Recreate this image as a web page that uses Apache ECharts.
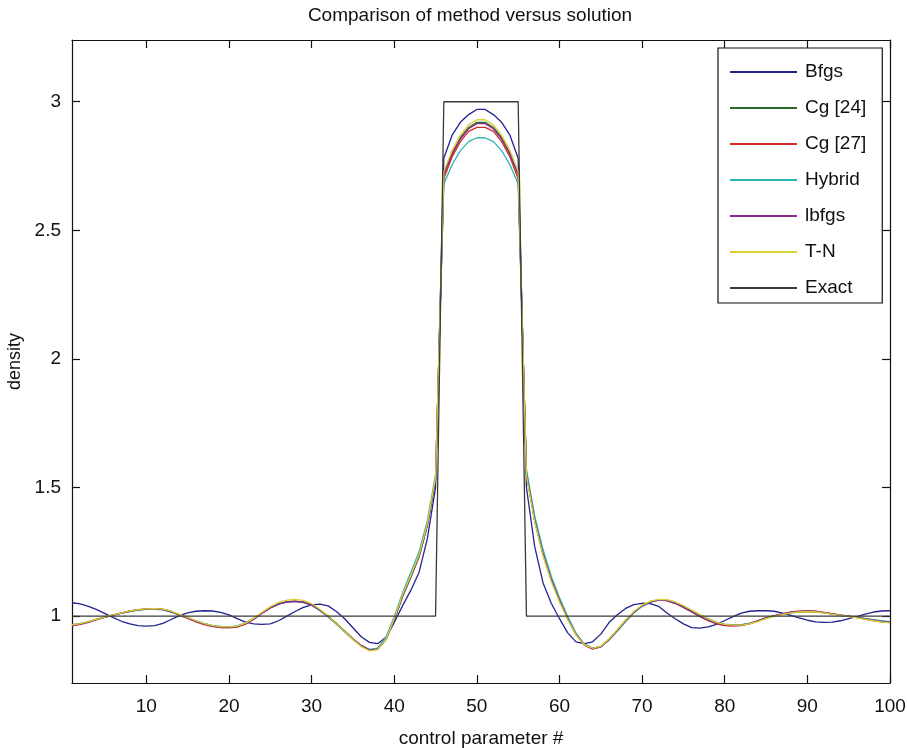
<!DOCTYPE html>
<html>
<head>
<meta charset="utf-8">
<script src="https://cdn.jsdelivr.net/npm/echarts@6/dist/echarts.min.js"></script>
<style>
html,body{margin:0;padding:0;background:#fff;}
#chart{width:907px;height:748px;}
</style>
</head>
<body>
<div id="chart"></div>
<script>
// ---- data ----
const seriesNames = ['Bfgs', 'Cg [24]', 'Cg [27]', 'Hybrid', 'lbfgs', 'T-N', 'Exact'];
const xTicks = [10, 20, 30, 40, 50, 60, 70, 80, 90, 100];
const yTicks = [1, 1.5, 2, 2.5, 3];

const bfgs = [1.052,1.048,1.038,1.025,1.010,0.994,0.980,0.970,0.963,0.961,
0.963,0.972,0.987,1.002,1.013,1.019,1.021,1.020,1.015,1.005,
0.990,0.977,0.970,0.968,0.970,0.982,1.000,1.018,1.034,1.044,
1.047,1.040,1.018,0.990,0.955,0.920,0.898,0.893,0.918,0.975,
1.040,1.100,1.170,1.300,1.500,2.780,2.870,2.920,2.950,2.970,
2.970,2.950,2.920,2.870,2.780,1.500,1.270,1.130,1.050,0.990,
0.935,0.900,0.893,0.900,0.930,0.975,1.005,1.030,1.045,1.050,
1.049,1.038,1.012,0.990,0.970,0.955,0.953,0.958,0.968,0.983,
0.998,1.012,1.019,1.021,1.021,1.019,1.012,1.003,0.993,0.984,
0.978,0.976,0.977,0.982,0.990,0.998,1.008,1.016,1.020,1.021];

const cg24 = [0.965,0.970,0.978,0.987,0.996,1.004,1.012,1.019,1.024,1.027,
1.028,1.026,1.018,1.006,0.994,0.981,0.970,0.962,0.958,0.957,
0.960,0.972,0.990,1.012,1.033,1.048,1.056,1.058,1.055,1.044,
1.024,1.000,0.972,0.942,0.912,0.886,0.870,0.873,0.910,0.985,
1.075,1.150,1.230,1.350,1.530,2.720,2.800,2.860,2.900,2.920,
2.920,2.900,2.860,2.800,2.720,1.550,1.370,1.240,1.140,1.060,
0.990,0.930,0.890,0.875,0.882,0.910,0.945,0.982,1.015,1.040,
1.055,1.062,1.060,1.050,1.035,1.018,1.000,0.985,0.973,0.967,
0.965,0.966,0.972,0.982,0.993,1.001,1.008,1.014,1.017,1.018,
1.017,1.014,1.009,1.004,1.000,0.996,0.990,0.985,0.980,0.977];

const cg27 = [0.962,0.968,0.976,0.986,0.996,1.005,1.013,1.020,1.025,1.028,
1.029,1.026,1.017,1.004,0.991,0.978,0.967,0.959,0.955,0.954,
0.957,0.969,0.988,1.011,1.032,1.047,1.055,1.057,1.054,1.043,
1.023,0.999,0.970,0.940,0.910,0.884,0.868,0.872,0.910,0.987,
1.078,1.155,1.235,1.355,1.535,2.700,2.785,2.845,2.885,2.900,
2.900,2.885,2.845,2.785,2.700,1.560,1.375,1.245,1.145,1.062,
0.990,0.928,0.887,0.872,0.880,0.908,0.944,0.981,1.014,1.040,
1.056,1.063,1.061,1.050,1.034,1.016,0.998,0.982,0.970,0.963,
0.961,0.963,0.970,0.981,0.993,1.002,1.010,1.016,1.019,1.020,
1.019,1.015,1.010,1.004,0.999,0.994,0.988,0.982,0.978,0.975];

const hybrid = [0.967,0.972,0.979,0.988,0.997,1.005,1.012,1.018,1.023,1.026,
1.026,1.024,1.016,1.005,0.994,0.982,0.972,0.964,0.960,0.959,
0.962,0.974,0.992,1.013,1.033,1.047,1.055,1.057,1.053,1.042,
1.021,0.997,0.968,0.938,0.909,0.884,0.870,0.876,0.918,0.998,
1.090,1.170,1.250,1.370,1.550,2.680,2.755,2.810,2.845,2.860,
2.860,2.845,2.810,2.755,2.680,1.570,1.390,1.260,1.155,1.072,
0.998,0.934,0.892,0.876,0.881,0.907,0.942,0.979,1.012,1.038,
1.054,1.062,1.062,1.054,1.040,1.023,1.005,0.990,0.977,0.969,
0.966,0.967,0.972,0.981,0.991,1.000,1.007,1.013,1.016,1.017,
1.016,1.013,1.008,1.003,0.999,0.995,0.990,0.986,0.982,0.979];

const lbfgs = [0.964,0.969,0.977,0.987,0.996,1.004,1.012,1.019,1.024,1.027,
1.028,1.025,1.017,1.005,0.993,0.980,0.969,0.961,0.957,0.956,
0.959,0.971,0.989,1.011,1.032,1.047,1.055,1.057,1.054,1.043,
1.023,0.999,0.971,0.941,0.911,0.885,0.869,0.872,0.909,0.985,
1.076,1.152,1.232,1.352,1.532,2.715,2.795,2.855,2.895,2.915,
2.915,2.895,2.855,2.795,2.715,1.552,1.372,1.242,1.142,1.061,
0.990,0.929,0.889,0.874,0.881,0.909,0.945,0.982,1.015,1.040,
1.055,1.062,1.060,1.050,1.035,1.017,0.999,0.984,0.972,0.966,
0.964,0.965,0.971,0.982,0.993,1.001,1.009,1.015,1.018,1.019,
1.018,1.014,1.009,1.004,0.999,0.995,0.989,0.984,0.979,0.976];

const tn = [0.966,0.971,0.979,0.988,0.997,1.005,1.013,1.020,1.025,1.028,
1.029,1.027,1.019,1.007,0.995,0.982,0.971,0.963,0.959,0.958,
0.961,0.973,0.992,1.015,1.037,1.053,1.062,1.065,1.061,1.049,
1.027,1.001,0.971,0.940,0.909,0.882,0.865,0.870,0.910,0.990,
1.082,1.158,1.238,1.358,1.540,2.730,2.810,2.870,2.910,2.930,
2.930,2.910,2.870,2.810,2.730,1.545,1.365,1.235,1.135,1.055,
0.986,0.927,0.889,0.875,0.883,0.912,0.948,0.985,1.018,1.043,
1.058,1.065,1.064,1.055,1.041,1.024,1.006,0.989,0.976,0.968,
0.965,0.965,0.970,0.979,0.990,0.999,1.007,1.013,1.016,1.017,
1.016,1.013,1.008,1.003,0.998,0.993,0.987,0.982,0.977,0.974];

const exactX = [1, 45, 46, 55, 56, 100];
const exactY = [1, 1, 3, 3, 1, 1];

const colors = ['#23238f', '#2a6a2a', '#d42a2a', '#2ab5b5', '#8a2a8a', '#d8d030', '#3a3a3a'];

// ---- build ----
function pairs(vals) { return vals.map((v, i) => [i + 1, v]); }
const methodData = [bfgs, cg24, cg27, hybrid, lbfgs, tn];

const font = 'Liberation Sans, Arial, sans-serif';
const series = methodData.map((vals, k) => ({
  name: seriesNames[k], type: 'line', data: pairs(vals), symbol: 'none',
  lineStyle: { width: 1.3, color: colors[k] }, itemStyle: { color: colors[k] }, z: 2 + k
}));
series.push({
  name: seriesNames[6], type: 'line', data: exactX.map((x, i) => [x, exactY[i]]), symbol: 'none',
  lineStyle: { width: 1.3, color: colors[6] }, itemStyle: { color: colors[6] }, z: 10
});

const axisLine = { show: true, lineStyle: { color: '#111', width: 1.2 } };
const tickStyle = { lineStyle: { color: '#111', width: 1.2 } };

const chart = echarts.init(document.getElementById('chart'), null, { renderer: 'canvas' });
chart.setOption({
  animation: false,
  backgroundColor: '#fff',
  title: {
    text: 'Comparison of method versus solution', left: 465, top: 1, textAlign: 'center',
    textStyle: { fontFamily: font, fontSize: 19, fontWeight: 'normal', color: '#111' }
  },
  legend: {
    orient: 'vertical', left: 718, top: 48,
    data: seriesNames,
    icon: 'rect',
    itemWidth: 67, itemHeight: 2, itemGap: 16,
    padding: [14, 16, 5, 12],
    borderColor: '#111', borderWidth: 1.2, backgroundColor: '#fff',
    textStyle: { fontFamily: font, fontSize: 19, lineHeight: 20, color: '#111', padding: [0, 0, 0, 3] }
  },
  grid: { left: 72, right: 17, top: 40, bottom: 65, containLabel: false, outerBoundsMode: 'none' },
  xAxis: [{
    type: 'value', min: 1, max: 100, position: 'bottom',
    name: 'control parameter #', nameLocation: 'middle', nameGap: 46,
    nameTextStyle: { fontFamily: font, fontSize: 19, color: '#111' },
    axisLine: axisLine,
    axisTick: Object.assign({ show: true, inside: true, length: 8, customValues: xTicks }, tickStyle),
    axisLabel: { customValues: xTicks, fontFamily: font, fontSize: 19, color: '#111', margin: 14 },
    splitLine: { show: false }
  }, {
    type: 'value', min: 1, max: 100, position: 'top',
    axisLine: axisLine,
    axisTick: Object.assign({ show: true, inside: true, length: 8, customValues: xTicks }, tickStyle),
    axisLabel: { show: false }, splitLine: { show: false }
  }],
  yAxis: [{
    type: 'value', min: 0.74, max: 3.24, position: 'left',
    name: 'density', nameLocation: 'middle', nameGap: 48,
    nameTextStyle: { fontFamily: font, fontSize: 18, color: '#111' },
    axisLine: axisLine,
    axisTick: Object.assign({ show: true, inside: true, length: 8, customValues: yTicks }, tickStyle),
    axisLabel: { customValues: yTicks, fontFamily: font, fontSize: 19, color: '#111', margin: 11 },
    splitLine: { show: false }
  }, {
    type: 'value', min: 0.74, max: 3.24, position: 'right',
    axisLine: axisLine,
    axisTick: Object.assign({ show: true, inside: true, length: 8, customValues: yTicks }, tickStyle),
    axisLabel: { show: false }, splitLine: { show: false }
  }],
  series: series
});
</script>
</body>
</html>
